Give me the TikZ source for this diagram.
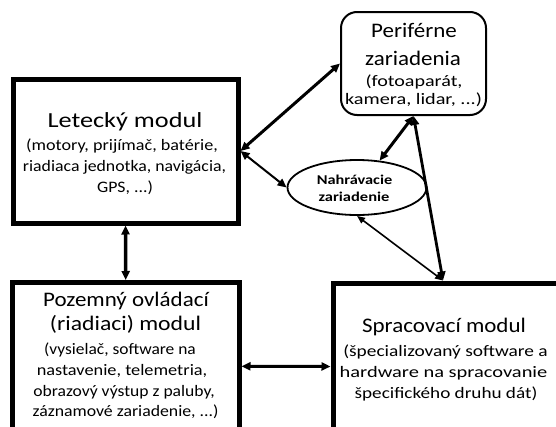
\documentclass[tikz,border=0pt]{standalone}
\usepackage{fontspec}
\usepackage{graphicx}
\setmainfont{Carlito}[FakeStretch=1.11]
\usetikzlibrary{arrows.meta,shapes.geometric}
\newcommand{\hsc}[2]{\scalebox{#1}[1]{#2}}
\tikzset{
  modbox/.style={draw, line width=5pt, inner sep=0pt, fill=none},
  thinbox/.style={draw, line width=2pt, inner sep=0pt},
  ttl/.style={anchor=base, inner sep=0pt, font=\fontsize{20.7}{24}\selectfont},
  bigttl/.style={anchor=base, inner sep=0pt, font=\fontsize{21.5}{24}\selectfont},
  sub/.style={anchor=base, inner sep=0pt, font=\fontsize{16}{20}\selectfont},
  elltxt/.style={anchor=base, inner sep=0pt, font=\bfseries\fontsize{13.5}{16}\selectfont},
  dblarr/.style={{Triangle[length=9pt,width=8pt]}-{Triangle[length=9pt,width=8pt]}},
  dblarrs/.style={{Triangle[length=8pt,width=6.5pt]}-{Triangle[length=8pt,width=6.5pt]}},
}
\begin{document}
\begin{tikzpicture}[x=1pt,y=-1pt]
\useasboundingbox (0,0) rectangle (556,426);
\clip (0,0) rectangle (556,426);
% boxes
\node[modbox, minimum width=225pt, minimum height=144pt] (let) at (125.5,151) {};
\node[modbox, minimum width=226.5pt, minimum height=167.5pt] (poz) at (125.75,366.25) {};
\node[modbox, minimum width=287pt, minimum height=167pt] (spr) at (476.5,366.5) {};
\node[thinbox, rounded corners=16pt, minimum width=145pt, minimum height=103pt] (per) at (413.5,63.5) {};
\node[ellipse, draw, line width=1.8pt, inner sep=0pt, minimum width=139pt, minimum height=55pt] (ell) at (357,187.5) {};
% texts
\node[bigttl] (let1) at (125,127) {\hsc{1.1}{Letecký modul}};
\node[sub] (let2) at (122,150) {\hsc{1.02}{(motory, prijímač, batérie,}};
\node[sub] (let3) at (124.5,171) {riadiaca jednotka, navigácia,};
\node[sub] (let4) at (125,192) {GPS, ...)};
\node[ttl] (per1) at (414,37) {Periférne};
\node[ttl] (per2) at (413,65) {zariadenia};
\node[sub] (per3) at (414,86) {\hsc{1.13}{(fotoaparát,}};
\node[sub] (per4) at (413.5,104.5) {\hsc{1.14}{kamera, lidar, ...)}};
\node[ttl] (poz1) at (126,306.7) {Pozemný ovládací};
\node[ttl] (poz2) at (125.5,330) {\hsc{1.03}{(riadiaci) modul}};
\node[sub] (poz3) at (120,354) {\hsc{0.98}{(vysielač, software na}};
\node[sub] (poz4) at (122,375) {\hsc{1.03}{nastavenie, telemetria,}};
\node[sub] (poz5) at (124,396.5) {\hsc{0.99}{obrazový výstup z paluby,}};
\node[sub] (poz6) at (125.5,416.7) {záznamové zariadenie, ...)};
\node[ttl] (spr1) at (444,332) {Spracovací modul};
\node[sub] (spr2) at (445.5,356) {\hsc{1.09}{(špecializovaný software a}};
\node[sub] (spr3) at (443.5,377) {\hsc{1.15}{hardware na spracovanie}};
\node[sub] (spr4) at (446,398) {\hsc{1.08}{špecifického druhu dát)}};
\node[elltxt] (ell1) at (354.5,184) {\hsc{1.09}{Nahrávacie}};
\node[elltxt] (ell2) at (354,201.5) {\hsc{1.1}{zariadenie}};
% connectors
\draw[dblarr, line width=3pt] (let.east) -- (per.west);
\draw[dblarr, line width=2pt] (let.east) -- (ell.west);
\draw[dblarr, line width=3pt] (ell.50) -- (per.south);
\draw[dblarr, line width=2.8pt] ([xshift=-33.5pt]spr.north) -- (per.south);
\draw[dblarrs, line width=1.6pt] ([xshift=-33.5pt]spr.north) -- (ell.south);
\draw[dblarr, line width=3.5pt] (let.south) -- (poz.north);
\draw[dblarr, line width=3pt] (poz.east) -- (spr.west);
\end{tikzpicture}
\end{document}
